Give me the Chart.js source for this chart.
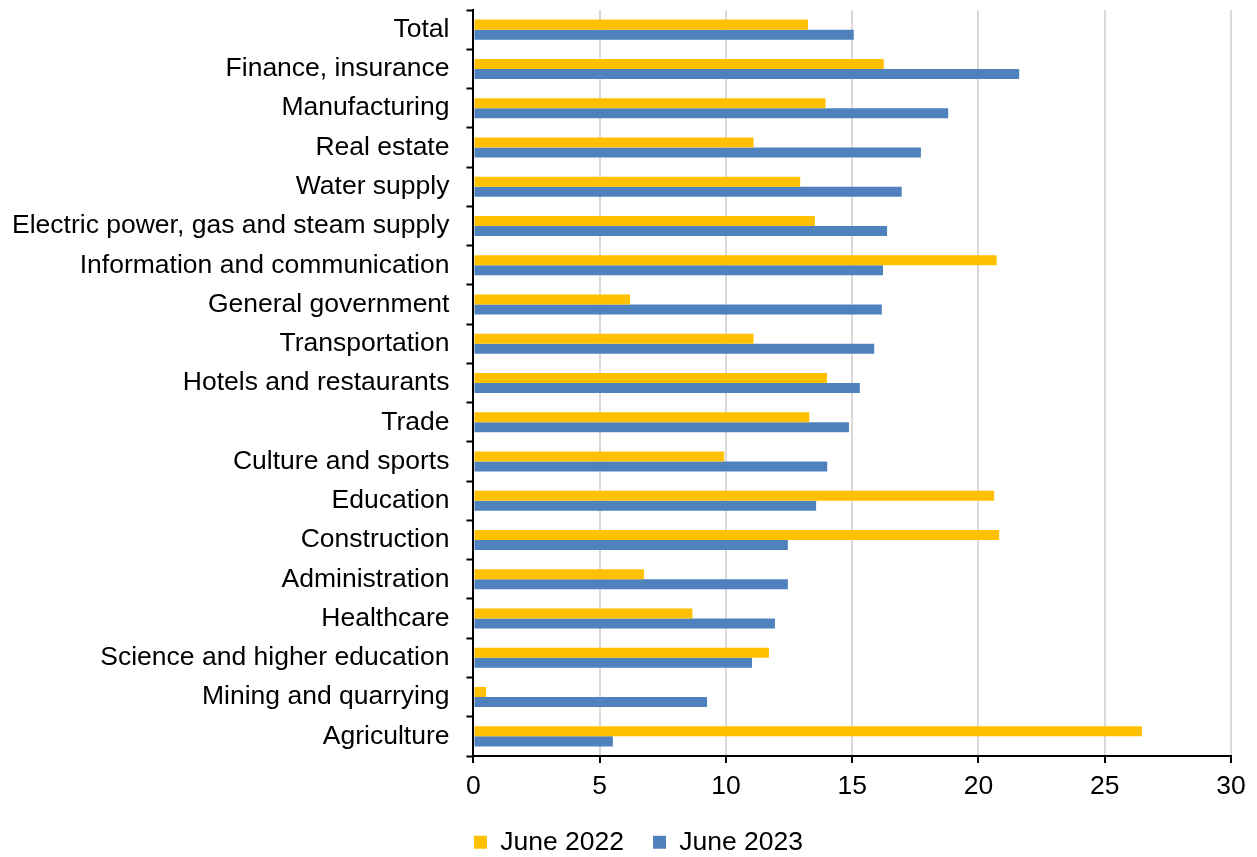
<!DOCTYPE html>
<html>
<head>
<meta charset="utf-8">
<script src="https://cdn.jsdelivr.net/npm/chart.js@4/dist/chart.umd.min.js"></script>
<style>
  html, body { margin: 0; padding: 0; background: #fff; }
  #wrap { width: 1257px; height: 857px; }
</style>
</head>
<body>
<div id="wrap"><canvas id="wageChart"></canvas></div>
<script>
const sectors = [
  'Total',
  'Finance, insurance',
  'Manufacturing',
  'Real estate',
  'Water supply',
  'Electric power, gas and steam supply',
  'Information and communication',
  'General government',
  'Transportation',
  'Hotels and restaurants',
  'Trade',
  'Culture and sports',
  'Education',
  'Construction',
  'Administration',
  'Healthcare',
  'Science and higher education',
  'Mining and quarrying',
  'Agriculture',
];

const june2022 = [13.25, 16.25, 13.94, 11.09, 12.94, 13.52, 20.72, 6.2, 11.09, 14.0,
  13.3, 9.93, 20.62, 20.82, 6.75, 8.67, 11.7, 0.5, 26.47];
const june2023 = [15.06, 21.61, 18.8, 17.72, 16.96, 16.38, 16.22, 16.17, 15.87, 15.3,
  14.87, 14.01, 13.57, 12.45, 12.45, 11.94, 11.03, 9.25, 5.52];

const xMin = 0;
const xMax = 30;
const xStep = 5;

//Global options
Chart.defaults.font.family = "'Liberation Sans', Arial, sans-serif";
Chart.defaults.font.size = 26.5;
Chart.defaults.color = '#000000';

// nudge the legend a little to the right of the canvas centre
const legendShift = {
  id: 'legendShift',
  afterLayout(chart) {
    chart.legend.left += 18;
    chart.legend.right += 18;
  },
};

const dataChart = {
  labels: sectors,
  datasets: [
    {
      label: 'June 2022',
      data: june2022,
      backgroundColor: '#FFC000',
      borderWidth: 0,
    },
    {
      label: 'June 2023',
      data: june2023,
      backgroundColor: '#4F81BD',
      borderWidth: 0,
    },
  ],
};

const config = {
  type: 'bar',
  data: dataChart,
  plugins: [legendShift],
  options: {
    indexAxis: 'y',
    responsive: true,
    maintainAspectRatio: false,
    animation: false,
    datasets: {
      bar: {
        categoryPercentage: 0.51,
        barPercentage: 1,
      },
    },
    layout: {
      padding: { left: 10, right: 26, top: 10, bottom: 0 },
    },
    plugins: {
      tooltip: { enabled: false },
      legend: {
        position: 'bottom',
        maxHeight: 57,
        labels: {
          boxWidth: 13,
          boxHeight: 13,
          padding: 29,
          color: '#000000',
        },
      },
    },
    scales: {
      x: {
        min: xMin,
        max: xMax,
        ticks: {
          stepSize: xStep,
          padding: 8,
          color: '#000000',
        },
        grid: {
          color: '#D9D9D9',
          lineWidth: 2,
          tickColor: '#000000',
          tickWidth: 2,
          tickLength: 7,
        },
        border: {
          color: '#000000',
          width: 2,
        },
        // keep the axis band tight above the legend
        afterFit(scale) {
          scale.height = 44;
        },
      },
      y: {
        ticks: {
          padding: 17,
          color: '#000000',
        },
        grid: {
          drawOnChartArea: false,
          tickColor: '#000000',
          tickWidth: 2,
          tickLength: 7,
        },
        border: {
          color: '#000000',
          width: 2,
        },
        // labels sit mid-band, so no extra room is needed above/below;
        // fit() also counts the tick padding twice on the width
        afterFit(scale) {
          scale.paddingTop = 0;
          scale.paddingBottom = 0;
          scale.width -= 15;
        },
      },
    },
  },
};

new Chart(document.getElementById('wageChart'), config);
</script>
</body>
</html>
